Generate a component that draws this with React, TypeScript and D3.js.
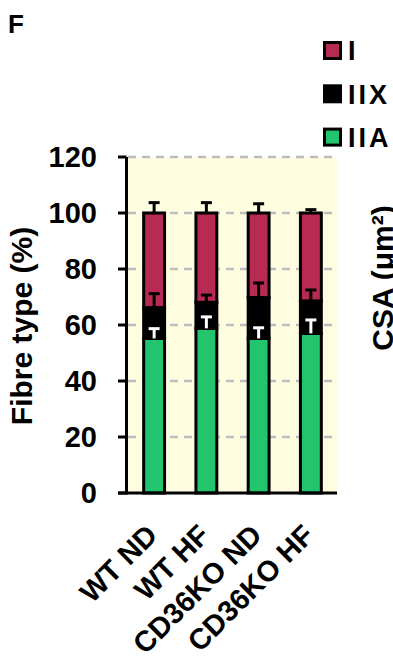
import React from 'react';
import * as d3 from 'd3';

const categories = ['WT ND', 'WT HF', 'CD36KO ND', 'CD36KO HF'];
const typeIIA = [55.2, 58.8, 55.2, 57.0];
const typeIIX = [11.0, 9.3, 14.6, 11.6];
const typeI = [33.8, 31.9, 30.2, 31.4];
const errIIA = [3.5, 4.1, 3.8, 4.8];
const errIIX = [5.0, 2.6, 5.2, 3.9];
const errI = [3.7, 3.7, 3.3, 1.2];
const yTicks = [0, 20, 40, 60, 80, 100, 120];
const legendItems = ['I', 'IIX', 'IIA'];

const RED = '#B72A52';
const GREEN = '#22C56E';
const BLACK = '#000';
const FONT = '"Liberation Sans", Arial, sans-serif';

export default function App() {
  // plot frame
  const left = 128;
  const right = 337;
  const top = 157;
  const bottom = 493;

  const x = d3.scaleBand<string>()
    .domain(categories)
    .range([left, right])
    .paddingInner(0.6)
    .paddingOuter(0.3);

  const y = d3.scaleLinear().domain([0, 120]).range([bottom, top]);

  const bw = x.bandwidth();
  const cap = 11;

  // stacked segments: IIA bottom, IIX middle, I top
  const segs = categories.map((c, i) => {
    const a = typeIIA[i];
    const b = a + typeIIX[i];
    const t = b + typeI[i];
    return { c, a, b, t };
  });

  const legendColors = [RED, BLACK, GREEN];

  const errBar = (cx: number, v0: number, v1: number, color: string, key: string) => (
    <g key={key} stroke={color} strokeWidth={3}>
      <line x1={cx} x2={cx} y1={y(v0)} y2={y(v1)} />
      <line x1={cx - cap / 2} x2={cx + cap / 2} y1={y(v1)} y2={y(v1)} />
    </g>
  );

  return (
    <svg
      width={393}
      height={665}
      style={{ position: 'absolute', left: 0, top: 0, background: '#fff' }}
      fontFamily={FONT}
      fontWeight="bold"
    >
      <text x={8} y={33} fontSize={26}>F</text>

      {/* plot background */}
      <rect x={left} y={top} width={right - left} height={bottom - top} fill="#FFFDE0" />

      {/* grid lines */}
      {yTicks.filter(t => t > 0).map(t => (
        <line key={'g' + t} x1={left} x2={right} y1={y(t)} y2={y(t)}
          stroke="#BDBDBD" strokeWidth={2.5} strokeDasharray="8,6" />
      ))}

      {/* bars */}
      {segs.map((s, i) => {
        const bx = x(s.c)!;
        return (
          <g key={'b' + i} stroke={BLACK} strokeWidth={3}>
            <rect x={bx} width={bw} y={y(s.a)} height={y(0) - y(s.a)} fill={GREEN} />
            <rect x={bx} width={bw} y={y(s.b)} height={y(s.a) - y(s.b)} fill={BLACK} />
            <rect x={bx} width={bw} y={y(s.t)} height={y(s.b) - y(s.t)} fill={RED} />
          </g>
        );
      })}

      {/* error bars (white on the black IIX band) */}
      {segs.map((s, i) => {
        const cx = x(s.c)! + bw / 2;
        return (
          <g key={'e' + i}>
            {errBar(cx, s.a, s.a + errIIA[i], '#fff', 'ea')}
            {errBar(cx, s.b, s.b + errIIX[i], BLACK, 'ex')}
            {errBar(cx, s.t, s.t + errI[i], BLACK, 'ei')}
          </g>
        );
      })}

      {/* y axis */}
      <line x1={126.5} x2={126.5} y1={top} y2={bottom + 1.5} stroke={BLACK} strokeWidth={3} />
      {yTicks.map(t => (
        <g key={'t' + t}>
          <line x1={118} x2={126.5} y1={y(t)} y2={y(t)} stroke={BLACK} strokeWidth={3} />
          <text x={97} y={y(t)} dy="0.36em" textAnchor="end" fontSize={29}>{t}</text>
        </g>
      ))}
      <text transform={`translate(32,326) rotate(-90)`} textAnchor="middle" fontSize={30}>
        Fibre type (%)
      </text>

      {/* x axis */}
      <line x1={118} x2={right} y1={bottom} y2={bottom} stroke={BLACK} strokeWidth={3} />
      {categories.map(c => {
        const cx = x(c)! + bw / 2;
        return (
          <text key={'x' + c} transform={`translate(${cx + 5},537) rotate(-45)`}
            textAnchor="end" fontSize={29}>{c}</text>
        );
      })}

      {/* legend */}
      {legendItems.map((l, i) => {
        const cy = 50.5 + i * 43.3;
        return (
          <g key={'l' + l}>
            <rect x={324.5} y={cy - 8} width={16} height={16} fill={legendColors[i]}
              stroke={BLACK} strokeWidth={3} />
            <text x={348} y={cy} dy="0.36em" fontSize={27} letterSpacing={3}>{l}</text>
          </g>
        );
      })}

      {/* neighbouring panel's axis title, cut at the edge as in the figure */}
      <text transform={`translate(393,278) rotate(-90)`} textAnchor="middle" fontSize={30}>
        CSA (μm²)
      </text>
    </svg>
  );
}
